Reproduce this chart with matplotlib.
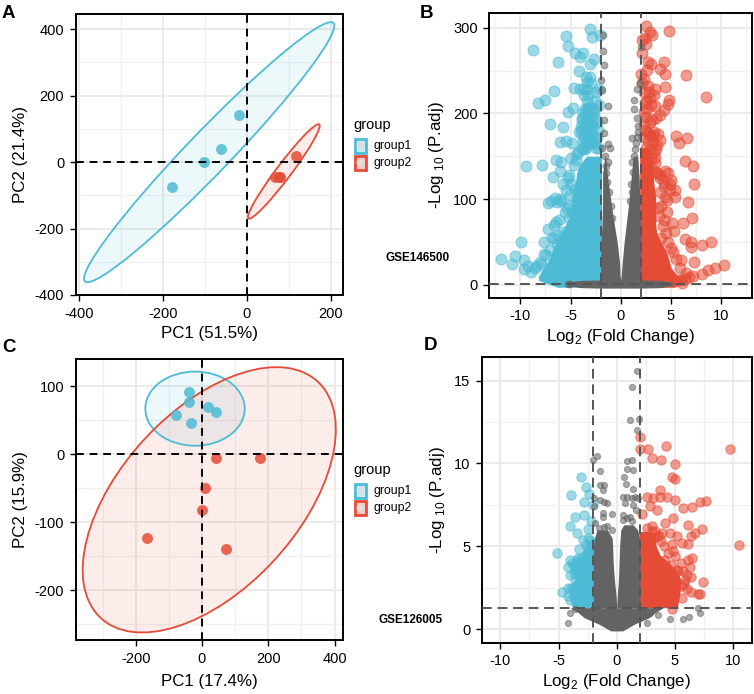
import matplotlib
matplotlib.use("Agg")
import matplotlib.pyplot as plt
from matplotlib.patches import Ellipse, Rectangle, Circle
from matplotlib.transforms import IdentityTransform

plt.rcParams["font.family"] = ["Liberation Sans", "DejaVu Sans"]
plt.rcParams["mathtext.fontset"] = "custom"
plt.rcParams["mathtext.rm"] = "Liberation Sans"
plt.rcParams["axes.unicode_minus"] = False

BLUE = "#4DBBD5"
RED = "#E64B35"
GREY = "#636363"
W, H = 754, 694

# PCA scores
a_blue_x = [-178, -102, -62, -18]
a_blue_y = [-74, 0, 41, 142]
a_red_x = [68, 80, 76, 118]
a_red_y = [-44, -46, -44, 19]
a_ell_blue = [-90, 30, 978, 112, 52.9]
a_ell_red = [88, -28, 330, 38, 59.4]

c_blue_x = [-38, -38, -79, -32, 17, 42]
c_blue_y = [91, 77, 57, 46, 70, 62]
c_red_x = [41, 174, 8, -1, -167, 74]
c_red_y = [-5, -6, -49, -82, -123, -140]
c_ell_blue = [-21, 67, 300, 109, 0]
c_ell_red = [22, -67, 797, 317, 18.1]

# panel B, points that can be told apart
b_blue_x = [-3.1, -5.5, -2.1, -2.9, -5.3, -8.7, -4.6, -3.8, -4.1, -6.2, -3.1, -2.7, -4.2, -3.1, -3.4,
            -4.7, -4.1, -3.4, -6.6, -2.2, -3.7, -7.5, -8.2, -4.8, -5.3, -3.1, -3.4, -2.7, -7.05, -5.75,
            -3.9, -3.5, -3.2, -4.0, -3.7, -2.6, -2.3, -3.0, -3.6, -6.05, -5.5, -4.9, -3.9, -3.2, -2.5,
            -9.45, -7.85, -6.4, -5.9, -6.05, -6.7, -4.4, -5.2, -5.0, -4.6, -7.2, -6.55, -5.9, -5.4,
            -6.4, -6.1, -7.2, -7.65, -9.9, -11.9, -10.5, -10.8, -9.6, -9.6, -8.5, -8.0, -8.9, -7.6,
            -6.8, -6.3, -5.7, -5.2, -4.9,
            -3.6, -3.3, -3.0, -2.7, -3.8, -3.5, -3.2, -2.9, -3.9, -3.6, -3.3, -3.0, -4.0, -3.7, -3.4,
            -3.1, -2.8, -2.4, -4.2, -3.9, -3.6, -3.3, -3.0, -2.7, -2.4, -3.8, -3.5, -3.2, -2.9, -2.6,
            -2.3, -4.3, -3.9, -3.6, -2.2, -2.6, -3.4, -3.7, -3.3, -3.0, -3.5, -2.5, -4.5, -5.0, -4.7,
            -5.3, -5.5, -5.7, -5.1, -6.0, -6.3, -6.9, -5.6, -5.2, -6.6, -6.2, -6.6, -7.0, -7.4, -7.9,
            -8.4, -9.2]
b_blue_y = [299, 290, 291, 289, 279, 273.5, 270, 270, 266, 260, 258, 263, 250, 243, 237,
            230, 229, 228, 226, 229, 221, 215.5, 212.5, 206, 201, 208, 203, 205, 188, 184,
            195, 190, 198, 180, 172, 195, 180, 165, 160, 166, 168, 165, 158, 170, 160,
            138, 140, 145.5, 143.6, 133, 126, 152.5, 128, 118, 112, 95, 101, 98, 90,
            73.5, 75, 64.6, 50, 49.4, 29.6, 34, 24, 29, 18.7, 20, 26, 15, 36,
            55, 48, 62, 78, 85,
            205, 208, 206, 203, 200, 198, 199, 197, 192, 190, 192, 189, 185, 183, 185,
            182, 185, 190, 178, 176, 176, 175, 176, 172, 172, 168, 167, 165, 168, 165,
            160, 155, 160, 158, 210, 215, 215, 228, 222, 235, 242, 225, 145, 148, 140,
            125, 110, 118, 105, 100, 96, 98, 85, 92, 70, 58, 55, 40, 35, 24,
            22, 22]
b_red_x = [2.5, 2.9, 3.1, 4.8, 2.1, 2.4, 2.5, 2.1, 2.75, 3.0, 4.3, 2.6, 3.9, 4.4, 6.5,
           2.0, 2.1, 4.4, 3.4, 2.8, 3.3, 8.5, 4.8, 4.7, 3.4, 4.3, 3.9, 2.5, 2.3, 3.1,
           2.6, 3.2, 5.5, 6.65, 5.8, 3.9, 3.5, 3.0, 6.4, 7.25, 4.4, 5.0, 7.3, 5.4, 4.9,
           5.4, 4.65, 6.75, 7.15, 4.3, 5.1, 6.25, 5.3, 6.4, 7.0, 7.0, 8.1, 9.0, 5.0, 6.0,
           7.3, 10.3, 9.4, 8.75, 8.15, 7.25, 6.1, 6.8, 6.4, 6.0, 5.6, 3.6, 3.9, 4.3, 4.6, 3.7, 3.4,
           2.3, 2.7, 2.3, 2.9, 2.4, 3.0, 2.6, 2.4, 2.9, 2.3, 3.5, 2.4, 2.8, 3.3, 3.7,
           2.3, 2.7, 3.2, 3.6, 2.5, 2.9, 3.3, 3.0, 2.5, 3.4, 2.6, 3.1, 3.5, 3.9, 4.7,
           4.3, 4.9, 3.9, 4.4, 4.0, 3.8, 4.2, 4.5, 4.0, 4.7, 5.2, 5.5, 5.9, 6.5]
b_red_y = [302, 294.5, 292, 296, 286, 288, 280.5, 271, 260, 257.6, 260, 250.6, 252, 246, 245,
           246, 235, 231, 229, 225, 221.5, 219, 216, 211, 208.5, 204, 198, 215, 202, 192,
           178, 175, 173.5, 171.6, 165, 169, 158, 172, 144, 138, 132.7, 122, 117.5, 111, 110,
           102.7, 99, 96, 78, 76, 72, 71.6, 62.6, 53, 49.4, 44, 46, 49.4, 42.4, 29,
           26, 23, 20, 17, 13, 10, 1.5, 9, 7, 6, 5, 130, 125, 120, 85, 90, 142,
           240, 232, 225, 218, 212, 210, 205, 196, 190, 188, 195, 180, 176, 178, 176,
           172, 168, 166, 163, 160, 158, 155, 148, 148, 148, 140, 135, 132, 128, 130,
           115, 118, 108, 102, 92, 80, 68, 60, 55, 50, 38, 30, 20, 14]
b_grey_x = [-1.8, -1.8, -1.65, -2.0, -1.9, -1.3, -1.7, -1.65, -1.3, -1.05, -1.9, -1.3, -1.6, -1.5,
            2.0, 1.6, 1.35, 1.3, 1.6, 1.75, 1.15, 1.1, 1.9, 1.5, 1.3, 1.7, -5.3, -5.1,
            -1.4, -1.2, -1.0, -0.9, -1.5, 1.0, 1.2, 1.4, 0.9, 1.1, 1.6]
b_grey_y = [292, 273, 256, 239, 227, 209, 192, 176.6, 164, 159, 159, 143.6, 150, 130,
            277, 229, 215.6, 204.7, 194, 178.6, 171, 143.6, 235, 165, 150, 185, 1, 1,
            120, 108, 92, 78, 138, 118, 132, 158, 98, 108, 172]

# panel B, saturated regions: outlines, single dots can not be told apart there
b_blue_mass_y = [-3, 5, 10, 20, 30, 40, 50, 60, 70, 80, 90, 100, 110, 120, 130, 140, 150]
b_blue_mass_l = [-6.3, -8.2, -8.2, -7.7, -7.1, -6.8, -6.4, -6.0, -5.5, -5.1, -4.9, -4.9, -4.8, -4.5, -4.4, -4.1, -3.4]
b_blue_mass_r = [-1.9] * 17
b_red_mass_y = [-3, 5, 10, 20, 30, 40, 50, 60, 70, 80, 100, 120, 140, 160]
b_red_mass_l = [1.9] * 14
b_red_mass_r = [5.4, 6.6, 5.7, 5.0, 4.8, 4.5, 4.0, 3.6, 3.5, 3.5, 3.5, 3.3, 3.2, 2.9]
b_grey_left_y = [5, 10, 25, 50, 75, 100, 125, 150]
b_grey_left_l = [-2.0, -2.0, -2.0, -1.95, -1.85, -1.8, -1.8, -1.6]
b_grey_left_r = [0.0, -0.05, -0.1, -0.35, -0.7, -1.0, -1.3, -1.5]
b_grey_right_y = [5, 10, 25, 50, 75, 100, 125, 150]
b_grey_right_l = [0.0, 0.05, 0.15, 0.35, 0.6, 0.85, 1.05, 1.25]
b_grey_right_r = [2.0, 2.0, 2.0, 2.0, 1.95, 1.9, 1.85, 1.7]
b_band_x = [-5.2, -4.0, -2.0, 0.0, 2.0, 4.0, 5.2]
b_band_low = [-1, -3.5, -4, -4, -4, -3.5, -1]
b_band_high = [3, 5, 5.5, 6, 5.5, 5, 3]

# panel D
d_blue_x = [-3.03, -2.66, -3.92, -2.35, -2.8, -2.0, -2.78, -3.58, -4.0, -3.43, -2.23, -2.43, -2.86,
            -3.2, -2.29, -5.09, -4.0, -3.43, -4.15, -3.43, -4.0, -2.9, -4.69, -4.15, -4.0, -3.7, -3.3, -2.6,
            -2.4, -2.6, -3.0, -3.4, -3.8, -3.7, -3.6, -3.9, -3.6, -4.2, -3.4, -2.5]
d_blue_y = [9.17, 8.57, 8.07, 8.17, 7.65, 7.5, 6.9, 6.74, 6.24, 5.8, 6.5, 6.05, 5.4,
            4.83, 5.4, 4.57, 4.18, 4.18, 3.78, 3.58, 3.28, 3.8, 2.23, 2.47, 1.77, 3.9, 4.3, 5.1,
            4.8, 4.5, 4.3, 4.0, 4.0, 3.4, 3.0, 2.5, 2.2, 2.0, 1.5, 5.5]
d_red_x = [2.0, 2.0, 2.66, 4.23, 9.73, 3.06, 3.8, 5.0, 4.72, 4.98, 3.72, 2.58, 3.15, 3.72, 4.35, 5.0,
           2.86, 3.43, 2.15, 4.86, 5.67, 6.47, 7.15, 7.64, 4.15, 6.15, 3.0, 7.3, 6.72, 6.38, 5.15, 4.58,
           3.86, 5.64, 6.15, 4.72, 10.53, 4.86, 6.5, 6.15, 4.15, 6.3, 4.0, 6.0, 6.38, 7.38, 7.15, 7.0,
           6.35, 5.64, 4.72, 5.8, 5.3, 3.3, 3.6,
           5.5, 5.7, 5.9, 5.6, 6.0, 4.4, 4.1, 3.8, 3.5, 5.0, 4.7, 5.2, 3.2, 2.6, 3.0]
d_red_y = [11.59, 10.87, 10.87, 11.03, 10.87, 10.32, 10.22, 9.96, 9.17, 9.05, 8.37, 8.0, 7.9, 7.97, 8.0, 7.8,
           7.44, 7.2, 6.96, 6.7, 7.34, 7.4, 7.65, 7.73, 6.4, 6.3, 6.2, 6.04, 5.8, 5.6, 5.6, 5.8,
           5.8, 5.2, 5.15, 5.15, 5.11, 4.69, 4.29, 4.18, 4.2, 3.78, 3.68, 3.28, 3.18, 2.84, 2.13, 2.13,
           2.23, 1.87, 1.2, 2.7, 3.5, 5.9, 5.6,
           4.0, 3.5, 3.0, 2.6, 2.4, 4.6, 5.0, 5.3, 5.6, 4.4, 3.9, 3.6, 5.5, 6.1, 5.9]
d_grey_x = [1.75, 1.35, 1.14, 1.95, 1.75, -1.72, -2.0, -1.43, 0.86, 1.29, 0.92, 1.43, 0.63, 0.8, 1.43,
            -1.43, -1.09, -1.2, -1.95, -1.43, -1.09, -0.86, -1.95, -1.14, -0.43, -1.14, 0.57, 0.9, 1.3, 1.6, 1.86,
            0.7, 1.43, 0.57, 1.14, 1.7, -1.86, -0.86, -0.43, -1.5, -1.1, 0.5, 0.9, 1.3,
            -4.0, -4.2, -3.58, 4.58, 5.72, 6.2, 7.0, 7.18, 3.58, 2.6, -2.9, 2.9]
d_grey_y = [15.6, 14.6, 12.6, 12.68, 12.0, 10.42, 10.18, 9.56, 10.16, 10.18, 9.66, 9.58, 9.17, 8.77, 8.45,
            8.67, 8.67, 8.4, 7.9, 7.77, 7.67, 7.6, 7.46, 7.0, 6.96, 6.8, 8.0, 8.0, 7.9, 7.95, 7.9,
            7.6, 7.5, 6.9, 6.8, 7.2, 6.4, 6.2, 6.0, 6.1, 6.15, 6.6, 6.7, 6.5,
            0.97, 0.36, 1.2, 0.6, 0.64, 0.74, 1.27, 0.97, 0.87, 0.36, 1.1, 1.0]

# panel D, saturated regions
d_blue_mass_y = [1.3, 2.0, 2.5, 3.0, 3.5, 4.0, 4.4, 5.0, 5.5]
d_blue_mass_l = [-3.8, -4.1, -4.2, -3.6, -4.0, -4.1, -3.0, -2.8, -2.2]
d_blue_mass_r = [-1.9] * 9
d_red_mass_y = [1.3, 2.0, 2.5, 3.0, 3.5, 4.0, 4.5, 5.0, 5.5, 5.9]
d_red_mass_l = [1.9] * 10
d_red_mass_r = [5.2, 5.4, 5.5, 5.5, 5.2, 4.5, 3.7, 3.4, 3.3, 3.0]
d_bowl_y = [-0.1, 0.3, 0.7, 1.0, 1.3]
d_bowl_l = [-0.5, -1.5, -2.8, -3.3, -4.0]
d_bowl_r = [0.5, 1.5, 2.8, 3.3, 4.0]
d_left_y = [1.3, 2.0, 3.0, 4.0, 5.0, 5.5, 6.0]
d_left_l = [-2.0, -2.0, -2.0, -2.0, -2.0, -1.9, -1.7]
d_left_r = [0.0, -0.05, -0.2, -0.3, -0.35, -0.4, -0.8]
d_right_y = [1.3, 2.0, 3.0, 4.0, 5.0, 5.5, 6.0, 6.3]
d_right_l = [0.0, 0.05, 0.15, 0.2, 0.25, 0.3, 0.35, 0.6]
d_right_r = [2.0, 2.0, 2.0, 2.0, 2.0, 1.95, 1.8, 1.4]

fig = plt.figure(figsize=(W / 100, H / 100), dpi=100)


def add_panel(x0, y0, x1, y1, xlim, ylim, xticks, yticks, xminor, yminor):
    ax = fig.add_axes([x0 / W, 1 - y1 / H, (x1 - x0) / W, (y1 - y0) / H])
    ax.set_xlim(xlim)
    ax.set_ylim(ylim)
    ax.set_xticks(xticks)
    ax.set_yticks(yticks)
    ax.set_xticks(xminor, minor=True)
    ax.set_yticks(yminor, minor=True)
    ax.grid(which="major", color="#EBEBEB", lw=1.5, zorder=0)
    ax.grid(which="minor", color="#F0F0F0", lw=0.9, zorder=0)
    ax.tick_params(which="minor", length=0)
    ax.tick_params(which="major", length=4.3, width=1, labelsize=10.5, pad=4, color="black")
    ax.set_axisbelow(True)
    for s in ax.spines.values():
        s.set_linewidth(1.4)
    return ax


def pca(ax, bx, by, rx, ry, ell_b, ell_r, xlab, ylab, xpad):
    for e, col in [(ell_b, BLUE), (ell_r, RED)]:
        ax.add_patch(Ellipse((e[0], e[1]), e[2], e[3], angle=e[4], facecolor=col, alpha=0.1, lw=0, zorder=2))
        ax.add_patch(Ellipse((e[0], e[1]), e[2], e[3], angle=e[4], fill=False, edgecolor=col, lw=1.3, zorder=3))
    ax.scatter(bx, by, s=62, color=BLUE, alpha=0.85, lw=0, zorder=4)
    ax.scatter(rx, ry, s=62, color=RED, alpha=0.85, lw=0, zorder=4)
    ax.axhline(0, color="black", lw=1.4, ls=(0, (4, 3)), zorder=5)
    ax.axvline(0, color="black", lw=1.4, ls=(0, (4, 3)), zorder=5)
    ax.set_xlabel(xlab, fontsize=12.2, labelpad=xpad)
    ax.set_ylabel(ylab, fontsize=12.2, labelpad=5)


def mass(ax, y, left, right, col, z):
    ax.fill_betweenx(y, left, right, color=col, lw=0, zorder=z)


def volcano(ax, dots, hline):
    for x, y, col, z, s in dots:
        ax.scatter(x, y, s=s, facecolor=col, edgecolor=col, alpha=0.55, lw=0.8, zorder=z)
    ax.axvline(-2, color="#555555", lw=1.4, ls=(0, (5, 3)), zorder=6)
    ax.axvline(2, color="#555555", lw=1.4, ls=(0, (5, 3)), zorder=6)
    ax.axhline(hline, color="#555555", lw=1.4, ls=(0, (5, 3)), zorder=6)
    ax.set_xlabel(r"Log$_{2}$ (Fold Change)", fontsize=12.2, labelpad=3)
    ax.set_ylabel(r"-Log $_{10}$ (P.adj)", fontsize=12.2, labelpad=5)


ax_a = add_panel(75.7, 14, 343, 295, (-408, 229), (-400, 446),
                 [-400, -200, 0, 200], [-400, -200, 0, 200, 400],
                 [-300, -100, 100], [-300, -100, 100, 300])
pca(ax_a, a_blue_x, a_blue_y, a_red_x, a_red_y, a_ell_blue, a_ell_red, "PC1 (51.5%)", "PC2 (21.4%)", 4)

ax_c = add_panel(75.7, 359, 343, 640.3, (-381, 425.6), (-273.5, 140),
                 [-200, 0, 200, 400], [-200, -100, 0, 100],
                 [-300, -100, 100, 300], [-250, -150, -50, 50])
pca(ax_c, c_blue_x, c_blue_y, c_red_x, c_red_y, c_ell_blue, c_ell_red, "PC1 (17.4%)", "PC2 (15.9%)", 6)

ax_b = add_panel(489.3, 13.3, 751.7, 297.7, (-13.1, 13.07), (-15.2, 316.8),
                 [-10, -5, 0, 5, 10], [0, 100, 200, 300],
                 [-7.5, -2.5, 2.5, 7.5, 12.5, -12.5], [50, 150, 250])
mass(ax_b, b_blue_mass_y, b_blue_mass_l, b_blue_mass_r, BLUE, 2)
mass(ax_b, b_red_mass_y, b_red_mass_l, b_red_mass_r, RED, 2)
mass(ax_b, b_grey_left_y, b_grey_left_l, b_grey_left_r, GREY, 4)
mass(ax_b, b_grey_right_y, b_grey_right_l, b_grey_right_r, GREY, 4)
ax_b.fill_between(b_band_x, b_band_low, b_band_high, color=GREY, lw=0, zorder=4)
volcano(ax_b, [(b_blue_x, b_blue_y, BLUE, 3, 62), (b_red_x, b_red_y, RED, 3, 62),
               (b_grey_x, b_grey_y, GREY, 5, 23)], 1.3)

ax_d = add_panel(481.7, 357.3, 751.7, 642.7, (-11.6, 11.6), (-0.81, 16.4),
                 [-10, -5, 0, 5, 10], [0, 5, 10, 15],
                 [-7.5, -2.5, 2.5, 7.5], [2.5, 7.5, 12.5])
mass(ax_d, d_blue_mass_y, d_blue_mass_l, d_blue_mass_r, BLUE, 2)
mass(ax_d, d_red_mass_y, d_red_mass_l, d_red_mass_r, RED, 2)
mass(ax_d, d_bowl_y, d_bowl_l, d_bowl_r, GREY, 4)
mass(ax_d, d_left_y, d_left_l, d_left_r, GREY, 4)
mass(ax_d, d_right_y, d_right_l, d_right_r, GREY, 4)
volcano(ax_d, [(d_blue_x, d_blue_y, BLUE, 3, 45), (d_red_x, d_red_y, RED, 3, 45),
               (d_grey_x, d_grey_y, GREY, 5, 19)], 1.3)

# panel letters
for label, px, py in [("A", 2, 17.5), ("B", 420, 18), ("C", 2, 352), ("D", 424, 350)]:
    fig.text(px / W, 1 - py / H, label, fontsize=13.5, fontweight="bold", ha="left", va="baseline")

# dataset tags
for label, px, py in [("GSE146500", 418, 258), ("GSE126005", 411, 620)]:
    fig.text(px / W, 1 - py / H, label, fontsize=8.5, fontweight="bold", ha="center", va="center")


def legend(base):
    fig.text(353 / W, 1 - base / H, "group", fontsize=10.5, ha="left", va="baseline")
    for i, col in enumerate([BLUE, RED]):
        y0 = base + 9.5 + i * 17
        xy = (354.5, H - (y0 + 14.5))
        fig.add_artist(Rectangle(xy, 11, 14.5, transform=IdentityTransform(), facecolor=col, alpha=0.3, lw=0))
        fig.add_artist(Rectangle(xy, 11, 14.5, transform=IdentityTransform(), fill=False, edgecolor=col, lw=2))
        fig.add_artist(Circle((360, H - (y0 + 7.2)), 3.5, transform=IdentityTransform(), facecolor="#DDDDDD", lw=0))
        fig.text(373.5 / W, 1 - (y0 + 7.2) / H, "group%d" % (i + 1), fontsize=8.8, ha="left", va="center")


legend(129)
legend(474)

fig.savefig("out.png", dpi=100)
